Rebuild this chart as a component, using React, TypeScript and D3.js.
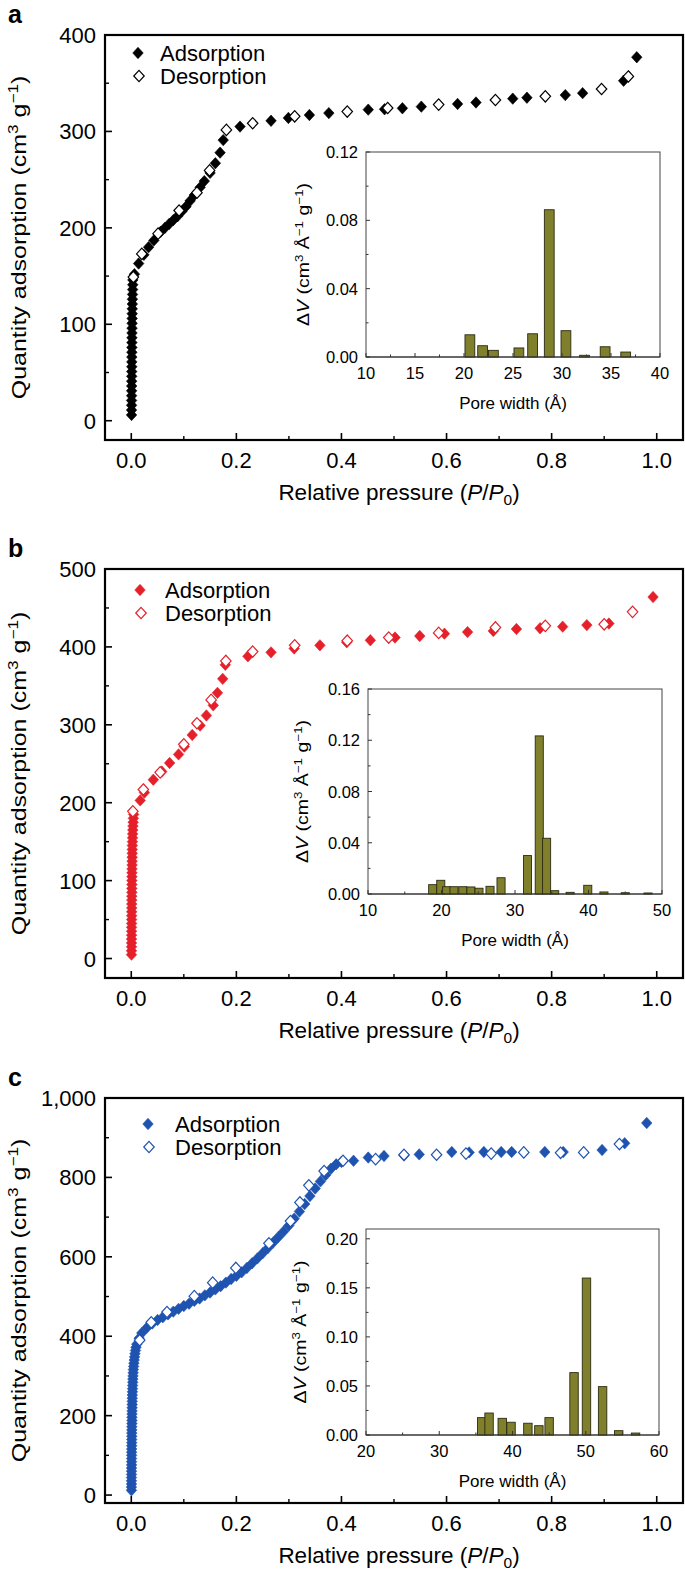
import React from 'react';
import * as d3 from 'd3';

type Pt = [number, number];

// ---------- Panel a (black) ----------
const aAdsorption: Pt[] = [
  [0.0005, 6], [0.0005, 11], [0.0006, 16], [0.0006, 21], [0.0007, 26], [0.0007, 31], [0.0008, 36], [0.0008, 41],
  [0.0009, 46], [0.0009, 51], [0.001, 56], [0.001, 61], [0.0011, 66], [0.0011, 71], [0.0012, 76], [0.0012, 81],
  [0.0013, 86], [0.0014, 91], [0.0015, 96], [0.0016, 101], [0.0017, 106], [0.0018, 111], [0.0019, 116], [0.002, 121],
  [0.0022, 126], [0.0024, 131], [0.0026, 136], [0.0028, 141], [0.003, 146],
  [0.006, 152], [0.014, 163], [0.024, 172], [0.033, 180], [0.043, 187], [0.056, 196], [0.064, 200], [0.072, 204],
  [0.08, 208], [0.088, 212], [0.096, 217], [0.104, 222], [0.112, 228], [0.12, 234], [0.131, 242], [0.139, 248.5],
  [0.15, 257], [0.16, 267], [0.169, 278], [0.175, 291], [0.207, 305], [0.266, 311], [0.299, 314], [0.339, 317],
  [0.376, 319], [0.451, 322.6], [0.482, 323], [0.516, 324], [0.552, 325.7], [0.621, 328.5], [0.656, 330],
  [0.726, 334], [0.753, 335], [0.826, 337.7], [0.859, 339.7], [0.937, 352.6], [0.962, 377],
];
const aDesorption: Pt[] = [
  [0.004, 149], [0.02, 173], [0.051, 194], [0.091, 218], [0.125, 236.5], [0.149, 259.6], [0.181, 301.6],
  [0.231, 308.5], [0.311, 315.7], [0.411, 320.6], [0.488, 324.3], [0.585, 327.8], [0.693, 332.6], [0.788, 336.4],
  [0.895, 344], [0.946, 357],
];
const aYTicks = [0, 100, 200, 300, 400];
const aYMinor = [50, 150, 250, 350];
const aPoreWidth = [20.6, 21.9, 23.0, 25.6, 27.0, 28.7, 30.4, 32.3, 34.4, 36.5];
const aDeltaV = [0.013, 0.0066, 0.0039, 0.0053, 0.0136, 0.0862, 0.0154, 0.001, 0.006, 0.0029];
const aInsetXTicks = [10, 15, 20, 25, 30, 35, 40];
const aInsetXMinor = [12.5, 17.5, 22.5, 27.5, 32.5, 37.5];
const aInsetYTicks = [0, 0.04, 0.08, 0.12];
const aInsetYMinor = [0.02, 0.06, 0.1];

// ---------- Panel b (red) ----------
const bAdsorption: Pt[] = [
  [0.0004, 5], [0.0004, 10], [0.0005, 15], [0.0005, 20], [0.0005, 25], [0.0006, 30], [0.0006, 35], [0.0006, 40],
  [0.0007, 45], [0.0007, 50], [0.0008, 55], [0.0008, 60], [0.0009, 65], [0.0009, 70], [0.001, 75], [0.001, 80],
  [0.0011, 85], [0.0011, 90], [0.0012, 95], [0.0012, 100], [0.0013, 105], [0.0013, 110], [0.0014, 115],
  [0.0015, 120], [0.0016, 125], [0.0017, 130], [0.0018, 135], [0.0019, 140], [0.002, 145], [0.0022, 150],
  [0.0024, 155], [0.0026, 160], [0.0029, 165], [0.0032, 170], [0.0036, 175], [0.004, 180], [0.0046, 185],
  [0.017, 203], [0.025, 213], [0.042, 229.5], [0.058, 240], [0.073, 251], [0.09, 262], [0.101, 272], [0.116, 287],
  [0.131, 299], [0.143, 312], [0.156, 325], [0.164, 341], [0.174, 359], [0.179, 377], [0.222, 388], [0.266, 393],
  [0.31, 398], [0.359, 402], [0.41, 406], [0.455, 408.5], [0.502, 412], [0.549, 414], [0.596, 417], [0.64, 419],
  [0.689, 420.5], [0.733, 423], [0.778, 424], [0.821, 426], [0.867, 428], [0.909, 430], [0.993, 464],
];
const bDesorption: Pt[] = [
  [0.003, 189], [0.023, 217], [0.055, 239], [0.1, 275], [0.125, 302], [0.152, 332], [0.18, 382], [0.231, 394],
  [0.311, 402], [0.411, 408], [0.49, 412], [0.585, 418], [0.693, 425], [0.788, 427], [0.9, 429], [0.954, 445],
];
const bYTicks = [0, 100, 200, 300, 400, 500];
const bYMinor = [50, 150, 250, 350, 450];
const bPoreWidth = [18.8, 19.9, 20.7, 21.7, 22.9, 24.0, 25.1, 26.6, 28.1, 31.7, 33.3, 34.3, 35.4, 37.5, 39.9, 42.1, 45.0, 48.1];
const bDeltaV = [0.0073, 0.0107, 0.0057, 0.0057, 0.0057, 0.0055, 0.0045, 0.006, 0.0127, 0.03, 0.1234, 0.0435, 0.0026, 0.0013, 0.0068, 0.0016, 0.001, 0.0008];
const bInsetXTicks = [10, 20, 30, 40, 50];
const bInsetXMinor = [15, 25, 35, 45];
const bInsetYTicks = [0, 0.04, 0.08, 0.12, 0.16];
const bInsetYMinor = [0.02, 0.06, 0.1, 0.14];

// ---------- Panel c (blue) ----------
const cAdsorption: Pt[] = [
  [0.0003, 12], [0.0003, 20], [0.0004, 28], [0.0004, 36], [0.0004, 44], [0.0005, 52], [0.0005, 60], [0.0005, 68],
  [0.0006, 76], [0.0006, 84], [0.0006, 92], [0.0007, 100], [0.0007, 108], [0.0008, 116], [0.0008, 124], [0.0009, 132],
  [0.0009, 140], [0.001, 148], [0.001, 156], [0.0011, 164], [0.0011, 172], [0.0012, 180], [0.0013, 188], [0.0013, 196],
  [0.0014, 204], [0.0015, 212], [0.0016, 220], [0.0017, 228], [0.0018, 236], [0.0019, 244], [0.002, 252], [0.0022, 260],
  [0.0024, 268], [0.0026, 276], [0.0028, 284], [0.003, 292], [0.0033, 300], [0.0036, 308], [0.004, 316], [0.0045, 324],
  [0.005, 332], [0.0056, 340], [0.0063, 348], [0.007, 356], [0.008, 364], [0.009, 372], [0.0105, 380],
  [0.015, 395], [0.02, 408], [0.03, 422], [0.04, 432], [0.05, 441], [0.06, 448], [0.07, 455], [0.08, 462], [0.09, 469],
  [0.1, 476], [0.11, 482], [0.12, 489], [0.13, 495], [0.14, 503], [0.15, 510], [0.16, 518], [0.17, 526], [0.18, 535],
  [0.19, 544], [0.2, 552], [0.21, 561], [0.22, 572], [0.23, 584], [0.24, 596], [0.25, 609], [0.26, 622], [0.27, 636],
  [0.28, 650], [0.29, 664], [0.3, 679], [0.31, 696], [0.32, 714], [0.33, 733], [0.34, 753], [0.35, 772], [0.36, 790],
  [0.37, 806], [0.38, 822], [0.39, 833], [0.4, 839], [0.423, 842], [0.451, 850], [0.481, 854], [0.519, 855],
  [0.548, 858], [0.61, 864], [0.643, 863], [0.671, 864], [0.704, 864], [0.724, 864], [0.787, 864], [0.822, 864],
  [0.896, 869], [0.939, 886], [0.981, 937],
];
const cDesorption: Pt[] = [
  [0.016, 390], [0.038, 435], [0.068, 461], [0.12, 501], [0.155, 535], [0.199, 572], [0.262, 634], [0.303, 690],
  [0.321, 737], [0.338, 780], [0.367, 816], [0.403, 842], [0.465, 846], [0.519, 857], [0.581, 857], [0.637, 860],
  [0.685, 860], [0.747, 863], [0.817, 862], [0.861, 863], [0.929, 884],
];
const cYTicks = [0, 200, 400, 600, 800, 1000];
const cYMinor = [100, 300, 500, 700, 900];
const cPoreWidth = [35.8, 36.8, 38.6, 39.8, 42.1, 43.6, 45.0, 48.4, 50.1, 52.3, 54.5, 56.8];
const cDeltaV = [0.0177, 0.0224, 0.017, 0.013, 0.012, 0.0095, 0.0177, 0.0636, 0.16, 0.0493, 0.0044, 0.002];
const cInsetXTicks = [20, 30, 40, 50, 60];
const cInsetXMinor = [25, 35, 45, 55];
const cInsetYTicks = [0, 0.05, 0.1, 0.15, 0.2];
const cInsetYMinor = [0.025, 0.075, 0.125, 0.175];

const xTicks = [0, 0.2, 0.4, 0.6, 0.8, 1.0];
const xMinor = [0.1, 0.3, 0.5, 0.7, 0.9];

const FONT = "'Liberation Sans', Arial, Helvetica, sans-serif";
const BAR_FILL = '#7f7f2c';
const BAR_STROKE = '#2b2b12';

interface PanelCfg {
  letter: string;
  top: number;
  bottom: number;
  yDomain: [number, number];
  yTicks: number[];
  yMinor: number[];
  yFmt: (v: number) => string;
  color: string;
  ads: Pt[];
  des: Pt[];
  legend: { x: number; y: number; tx: number };
  inset: {
    left: number; right: number; top: number; bottom: number;
    xDomain: [number, number]; yDomain: [number, number];
    xTicks: number[]; xMinor: number[]; yTicks: number[]; yMinor: number[];
    yFmt: (v: number) => string;
    widths: number[]; values: number[]; barW: number; titleOff: number;
  };
}

const LEFT = 105;
const RIGHT = 683;

function diamond(cx: number, cy: number, r: number) {
  const w = r * 0.92;
  return `M${cx},${cy - r}L${cx + w},${cy}L${cx},${cy + r}L${cx - w},${cy}Z`;
}

function Panel({ cfg }: { cfg: PanelCfg }) {
  const x = d3.scaleLinear().domain([-0.05, 1.05]).range([LEFT, RIGHT]);
  const y = d3.scaleLinear().domain(cfg.yDomain).range([cfg.bottom, cfg.top]);
  const ins = cfg.inset;
  const xi = d3.scaleLinear().domain(ins.xDomain).range([ins.left, ins.right]);
  const yi = d3.scaleLinear().domain(ins.yDomain).range([ins.bottom, ins.top]);
  const r = 5.7;
  const midY = (cfg.top + cfg.bottom) / 2;
  const insMidY = (ins.top + ins.bottom) / 2;
  const insMidX = (ins.left + ins.right) / 2;
  return (
    <g>
      <text x={8} y={cfg.top - 12} fontSize={25} fontWeight="bold" fontFamily={FONT}>{cfg.letter}</text>
      {/* Inset */}
      <rect x={ins.left} y={ins.top} width={ins.right - ins.left} height={ins.bottom - ins.top} fill="white" stroke="#555" strokeWidth={1.1} />
      {ins.widths.map((w, i) => (
        <rect key={i} x={xi(w - ins.barW / 2)} y={yi(ins.values[i])}
          width={xi(w + ins.barW / 2) - xi(w - ins.barW / 2)} height={yi(0) - yi(ins.values[i])}
          fill={BAR_FILL} stroke={BAR_STROKE} strokeWidth={0.9} />
      ))}
      <line x1={ins.left} x2={ins.right} y1={ins.bottom} y2={ins.bottom} stroke="#333" strokeWidth={1.1} />
      {ins.xTicks.map((t) => (
        <g key={'ix' + t}>
          <line x1={xi(t)} x2={xi(t)} y1={ins.bottom} y2={ins.bottom - 4} stroke="#333" strokeWidth={1} />
          <text x={xi(t)} y={ins.bottom + 22} fontSize={16.5} textAnchor="middle" fontFamily={FONT}>{t}</text>
        </g>
      ))}
      {ins.xMinor.map((t) => (
        <line key={'ixm' + t} x1={xi(t)} x2={xi(t)} y1={ins.bottom} y2={ins.bottom - 2.5} stroke="#333" strokeWidth={1} />
      ))}
      {ins.yTicks.map((t) => (
        <g key={'iy' + t}>
          <line x1={ins.left} x2={ins.left + 4} y1={yi(t)} y2={yi(t)} stroke="#333" strokeWidth={1} />
          <text x={ins.left - 8} y={yi(t) + 6} fontSize={16.5} textAnchor="end" fontFamily={FONT}>{ins.yFmt(t)}</text>
        </g>
      ))}
      {ins.yMinor.map((t) => (
        <line key={'iym' + t} x1={ins.left} x2={ins.left + 2.5} y1={yi(t)} y2={yi(t)} stroke="#333" strokeWidth={1} />
      ))}
      <text x={insMidX} y={ins.bottom + 52} fontSize={17} textAnchor="middle" fontFamily={FONT}>Pore width (Å)</text>
      <text transform={`translate(${ins.left - ins.titleOff},${insMidY}) rotate(-90) scale(1.22,1)`} fontSize={16} textAnchor="middle" fontFamily={FONT}>
        Δ<tspan fontStyle="italic">V</tspan> (cm<tspan dy={-6} fontSize={11}>3</tspan><tspan dy={6}> Å</tspan><tspan dy={-6} fontSize={11}>−1</tspan><tspan dy={6}> g</tspan><tspan dy={-6} fontSize={11}>−1</tspan><tspan dy={6}>)</tspan>
      </text>

      {/* Main scatter */}
      {cfg.ads.map((d, i) => (
        <path key={'a' + i} d={diamond(x(d[0]), y(d[1]), r)} fill={cfg.color} stroke={cfg.color} strokeWidth={0.6} />
      ))}
      {cfg.des.map((d, i) => (
        <path key={'d' + i} d={diamond(x(d[0]), y(d[1]), r)} fill="white" stroke={cfg.color} strokeWidth={1.2} />
      ))}

      {/* Legend */}
      <path d={diamond(cfg.legend.x, cfg.legend.y, r)} fill={cfg.color} stroke={cfg.color} strokeWidth={0.6} />
      <text x={cfg.legend.tx} y={cfg.legend.y + 8} fontSize={22} fontFamily={FONT}>Adsorption</text>
      <path d={diamond(cfg.legend.x + 1, cfg.legend.y + 23, r)} fill="white" stroke={cfg.color} strokeWidth={1.2} />
      <text x={cfg.legend.tx} y={cfg.legend.y + 31} fontSize={22} fontFamily={FONT}>Desorption</text>

      {/* Frame */}
      <rect x={LEFT} y={cfg.top} width={RIGHT - LEFT} height={cfg.bottom - cfg.top} fill="none" stroke="black" strokeWidth={2.2} />
      {xTicks.map((t) => (
        <g key={'x' + t}>
          <line x1={x(t)} x2={x(t)} y1={cfg.bottom} y2={cfg.bottom - 7} stroke="black" strokeWidth={1.6} />
          <text x={x(t)} y={cfg.bottom + 28} fontSize={22} textAnchor="middle" fontFamily={FONT}>{t.toFixed(1)}</text>
        </g>
      ))}
      {xMinor.map((t) => (
        <line key={'xm' + t} x1={x(t)} x2={x(t)} y1={cfg.bottom} y2={cfg.bottom - 4} stroke="black" strokeWidth={1.4} />
      ))}
      {cfg.yTicks.map((t) => (
        <g key={'y' + t}>
          <line x1={LEFT} x2={LEFT + 7} y1={y(t)} y2={y(t)} stroke="black" strokeWidth={1.6} />
          <text x={LEFT - 9} y={y(t) + 8} fontSize={22} textAnchor="end" fontFamily={FONT}>{cfg.yFmt(t)}</text>
        </g>
      ))}
      {cfg.yMinor.map((t) => (
        <line key={'ym' + t} x1={LEFT} x2={LEFT + 4} y1={y(t)} y2={y(t)} stroke="black" strokeWidth={1.4} />
      ))}
      <text x={(LEFT + RIGHT) / 2 + 5} y={cfg.bottom + 60} fontSize={22.5} textAnchor="middle" fontFamily={FONT}>
        Relative pressure (<tspan fontStyle="italic">P</tspan>/<tspan fontStyle="italic">P</tspan><tspan dy={5} fontSize={15.5}>0</tspan><tspan dy={-5}>)</tspan>
      </text>
      <text transform={`translate(26,${midY}) rotate(-90) scale(1.22,1)`} fontSize={20.5} textAnchor="middle" fontFamily={FONT}>
        Quantity adsorption (cm<tspan dy={-8} fontSize={14}>3</tspan><tspan dy={8}> g</tspan><tspan dy={-8} fontSize={14}>−1</tspan><tspan dy={8}>)</tspan>
      </text>
    </g>
  );
}

const fmt2 = d3.format('.2f');
const fmtInt = d3.format('d');
const fmtComma = d3.format(',');

const panels: PanelCfg[] = [
  {
    letter: 'a', top: 35, bottom: 440, yDomain: [-20, 400], yTicks: aYTicks, yMinor: aYMinor, yFmt: fmtInt,
    color: '#000000', ads: aAdsorption, des: aDesorption, legend: { x: 138, y: 53, tx: 160 },
    inset: {
      left: 366, right: 660, top: 152, bottom: 357, xDomain: [10, 40], yDomain: [0, 0.12],
      xTicks: aInsetXTicks, xMinor: aInsetXMinor, yTicks: aInsetYTicks, yMinor: aInsetYMinor, yFmt: fmt2,
      widths: aPoreWidth, values: aDeltaV, barW: 1.0, titleOff: 57,
    },
  },
  {
    letter: 'b', top: 569, bottom: 978, yDomain: [-25, 500], yTicks: bYTicks, yMinor: bYMinor, yFmt: fmtInt,
    color: '#e5202a', ads: bAdsorption, des: bDesorption, legend: { x: 140, y: 590, tx: 165 },
    inset: {
      left: 368, right: 662, top: 689, bottom: 894, xDomain: [10, 50], yDomain: [0, 0.16],
      xTicks: bInsetXTicks, xMinor: bInsetXMinor, yTicks: bInsetYTicks, yMinor: bInsetYMinor, yFmt: fmt2,
      widths: bPoreWidth, values: bDeltaV, barW: 1.1, titleOff: 60,
    },
  },
  {
    letter: 'c', top: 1098, bottom: 1503, yDomain: [-20, 1000], yTicks: cYTicks, yMinor: cYMinor, yFmt: fmtComma,
    color: '#1f53b0', ads: cAdsorption, des: cDesorption, legend: { x: 148, y: 1124, tx: 175 },
    inset: {
      left: 366, right: 659, top: 1229, bottom: 1435, xDomain: [20, 60], yDomain: [0, 0.21],
      xTicks: cInsetXTicks, xMinor: cInsetXMinor, yTicks: cInsetYTicks, yMinor: cInsetYMinor, yFmt: fmt2,
      widths: cPoreWidth, values: cDeltaV, barW: 1.15, titleOff: 60,
    },
  },
];

export default function App() {
  return (
    <svg width={685} height={1572} style={{ position: 'absolute', left: 0, top: 0, background: 'white' }}>
      <rect width={685} height={1572} fill="white" />
      {panels.map((p) => <Panel key={p.letter} cfg={p} />)}
    </svg>
  );
}
